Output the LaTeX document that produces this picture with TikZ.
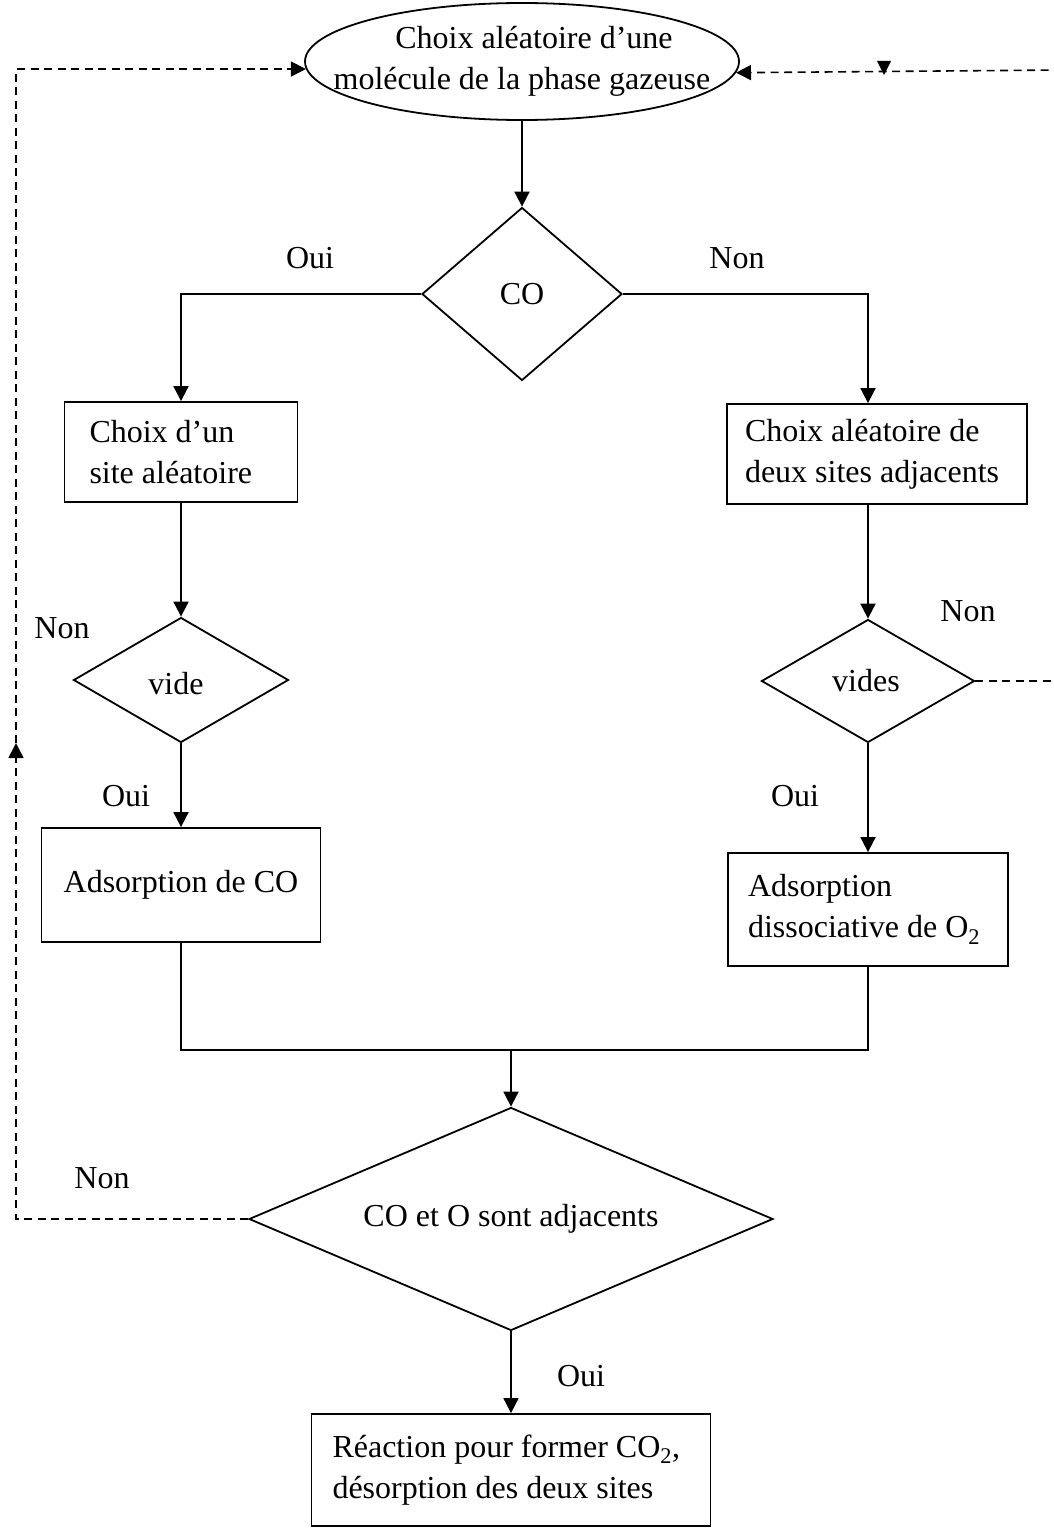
\documentclass[tikz,border=0pt]{standalone}
\usepackage{fontspec}
\setmainfont{Liberation Serif}
\usetikzlibrary{shapes.geometric,arrows.meta}

\begin{document}
\begin{tikzpicture}[x=1pt,y=-1pt,
  every node/.style={font=\fontsize{32}{41}\selectfont},
  tip/.style={-{Triangle[length=15pt,width=15pt]}},
  line/.style={line width=1.8pt},
  arr/.style={line,tip},
  dsh/.style={line width=1.6pt,dash pattern=on 8pt off 5.5pt},
  box/.style={draw,line width=1.8pt,rectangle,align=flush left,inner ysep=0pt},
  dec/.style={draw,line width=1.8pt,diamond,inner sep=0pt},
  oval/.style={draw,line width=1.8pt,ellipse,inner sep=0pt},
  lbl/.style={inner sep=0pt}]

\clip (0,0) rectangle (1053,1528);

% start: pick a gas-phase molecule
\node[oval,minimum width=434,minimum height=117] (ell) at (522,61.5) {};
\node[lbl,align=center] (ellT) at (ell) {\hspace*{24pt}Choix aléatoire d’une\\molécule de la phase gazeuse};

% is it CO ?
\node[dec,minimum width=200,minimum height=173] (co) at (522,294) {};
\node[lbl] (coT) at (co) {CO};

% CO branch (left)
\node[box,minimum width=233,minimum height=100,inner xsep=25pt,text width=183pt] (b1) at (181,452)
  {Choix d’un\\site aléatoire};
\node[dec,minimum width=215,minimum height=125] (v) at (181,680) {};
\node[lbl] (vT) at (176,684) {vide};
\node[box,minimum width=279,minimum height=114,align=center] (ads) at (181,885) {Adsorption de CO};

% O2 branch (right)
\node[box,minimum width=300,minimum height=100,inner xsep=18pt,text width=264pt] (r1) at (877,454)
  {Choix aléatoire de\\deux sites adjacents};
\node[dec,minimum width=213,minimum height=123] (rv) at (868,681) {};
\node[lbl] (rvT) at (866,681) {vides};
\node[box,minimum width=280,minimum height=113,inner xsep=20pt,text width=240pt] (r2) at (868,909.5)
  {Adsorption\\dissociative de O\textsubscript{2}};

% reaction test
\node[dec,minimum width=524,minimum height=223] (big) at (511,1219) {};
\node[lbl] (bigT) at (big) {CO et O sont adjacents};
\node[box,minimum width=399,minimum height=112,inner xsep=21pt,text width=357pt] (bot) at (511,1470)
  {Réaction pour former CO\textsubscript{2},\\désorption des deux sites};

% branch labels
\node[lbl] (l1) at (310,258) {Oui};
\node[lbl] (l2) at (737,258) {Non};
\node[lbl] (l3) at (62,628) {Non};
\node[lbl] (l4) at (126,796) {Oui};
\node[lbl] (l5) at (968,611) {Non};
\node[lbl] (l6) at (795,796) {Oui};
\node[lbl] (l7) at (102,1178) {Non};
\node[lbl] (l8) at (581,1376) {Oui};

% solid connectors
\draw[arr] (ell.south) -- (co.north);
\draw[arr] (co.west) -| (b1.north);
\draw[arr] (co.east) -| (rv.north |- r1.north);
\draw[arr] (b1.south) -- (v.north);
\draw[arr] (v.south) -- (ads.north);
\draw[arr] (rv.north |- r1.south) -- (rv.north);
\draw[arr] (rv.south) -- (r2.north);
\coordinate (m) at (511,1050);
\draw[line] (ads.south) |- (m) -| (r2.south);
\draw[arr] (m) -- (big.north);
\draw[arr] (big.south) -- (bot.north);

% dashed return paths
\coordinate (lm) at (16,743);
\draw[dsh,tip] (big.west) -| (lm);
\draw[dsh,tip] (lm) |- (ell.182.4);
\coordinate (rc) at (1062,70);
\draw[dsh] (rv.east) -| (rc);
\draw[dsh,tip] (rc) -- (ell.357.6);
% downward marker on the right return line
\coordinate (rmk) at (884,70);
\fill ([xshift=-7pt,yshift=9pt]rmk) -- ([xshift=7pt,yshift=9pt]rmk) -- ([yshift=-5pt]rmk) -- cycle;
\end{tikzpicture}
\end{document}
